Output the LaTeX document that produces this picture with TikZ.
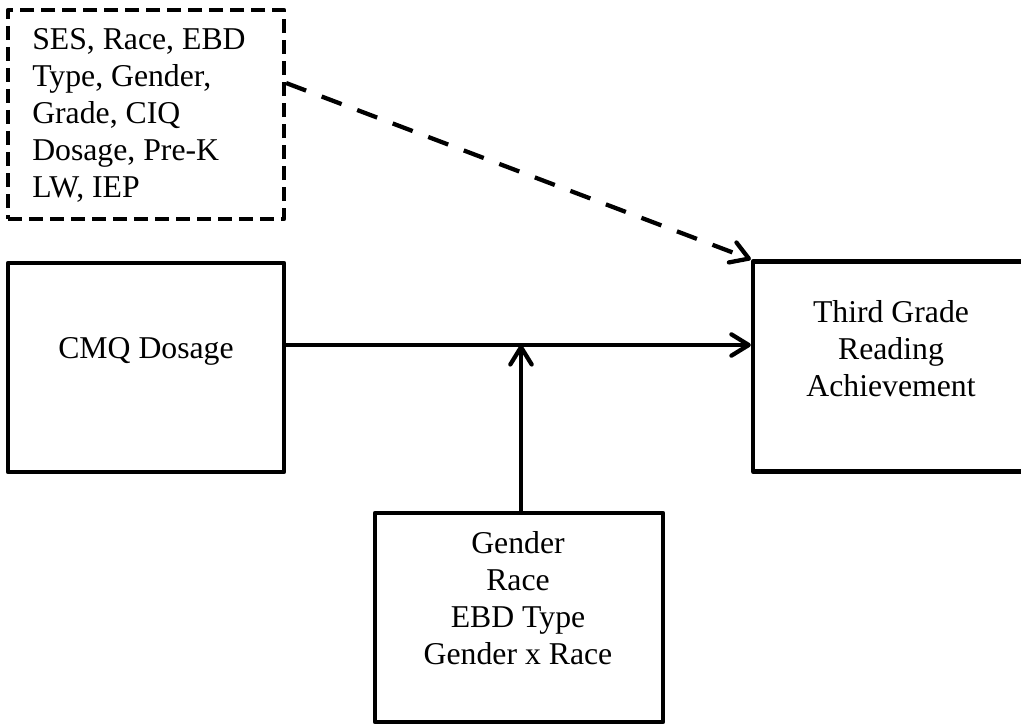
\documentclass[tikz,border=0pt]{standalone}
\usepackage{fontspec}
\setmainfont{Liberation Serif}
\usetikzlibrary{arrows.meta}
\begin{document}
\begin{tikzpicture}[x=0.75pt,y=-0.75pt,
  boxstyle/.style={draw=black,line width=3.2pt,rectangle,inner sep=0pt,line join=round},
  dashbox/.style={boxstyle,dash pattern=on 10.5pt off 5.25pt},
  txt/.style={inner sep=0pt,font=\fontsize{23.8}{27.75}\selectfont},
  arr/.style={line width=3.2pt,-{Straight Barb[length=13pt,width=16pt,line join=round,line cap=round]}},
  dasharr/.style={arr,dash pattern=on 16pt off 12.5pt}]
\useasboundingbox (0,0) rectangle (1021,724);
\clip (0,0) rectangle (1021,724);
% boxes
\node[dashbox,minimum width=207pt,minimum height=156.75pt] (cov) at (146,114.5) {};
\node[boxstyle,minimum width=207pt,minimum height=156.75pt] (cmq) at (146,367.5) {};
\node[boxstyle,minimum width=207.75pt,minimum height=157.5pt] (third) at (891.5,366.5) {};
\node[boxstyle,minimum width=216pt,minimum height=156.75pt] (mod) at (519,617.5) {};
% texts
\node[txt,align=left,anchor=north west] (covtext) at (32,28.5)
  {SES, Race, EBD\\Type, Gender,\\Grade, CIQ\\Dosage, Pre-K\\LW, IEP};
\node[txt,anchor=base] (cmqtext) at (146,358) {CMQ Dosage};
\node[txt,align=center,anchor=north] (thirdtext) at (891,300)
  {Third Grade\\Reading\\Achievement};
\node[txt,align=center,anchor=north] (modtext) at (518,531)
  {Gender\\Race\\EBD Type\\Gender x Race};
% connectors
\coordinate (ym) at (0,345);
\coordinate (vx) at (521,0);
\draw[dasharr] ([yshift=23.6pt]cov.east) -- (third.north west);
\draw[arr] (cmq.east |- ym) -- (third.west |- ym);
\draw[arr] (vx |- mod.north) -- (vx |- ym);
\end{tikzpicture}
\end{document}
